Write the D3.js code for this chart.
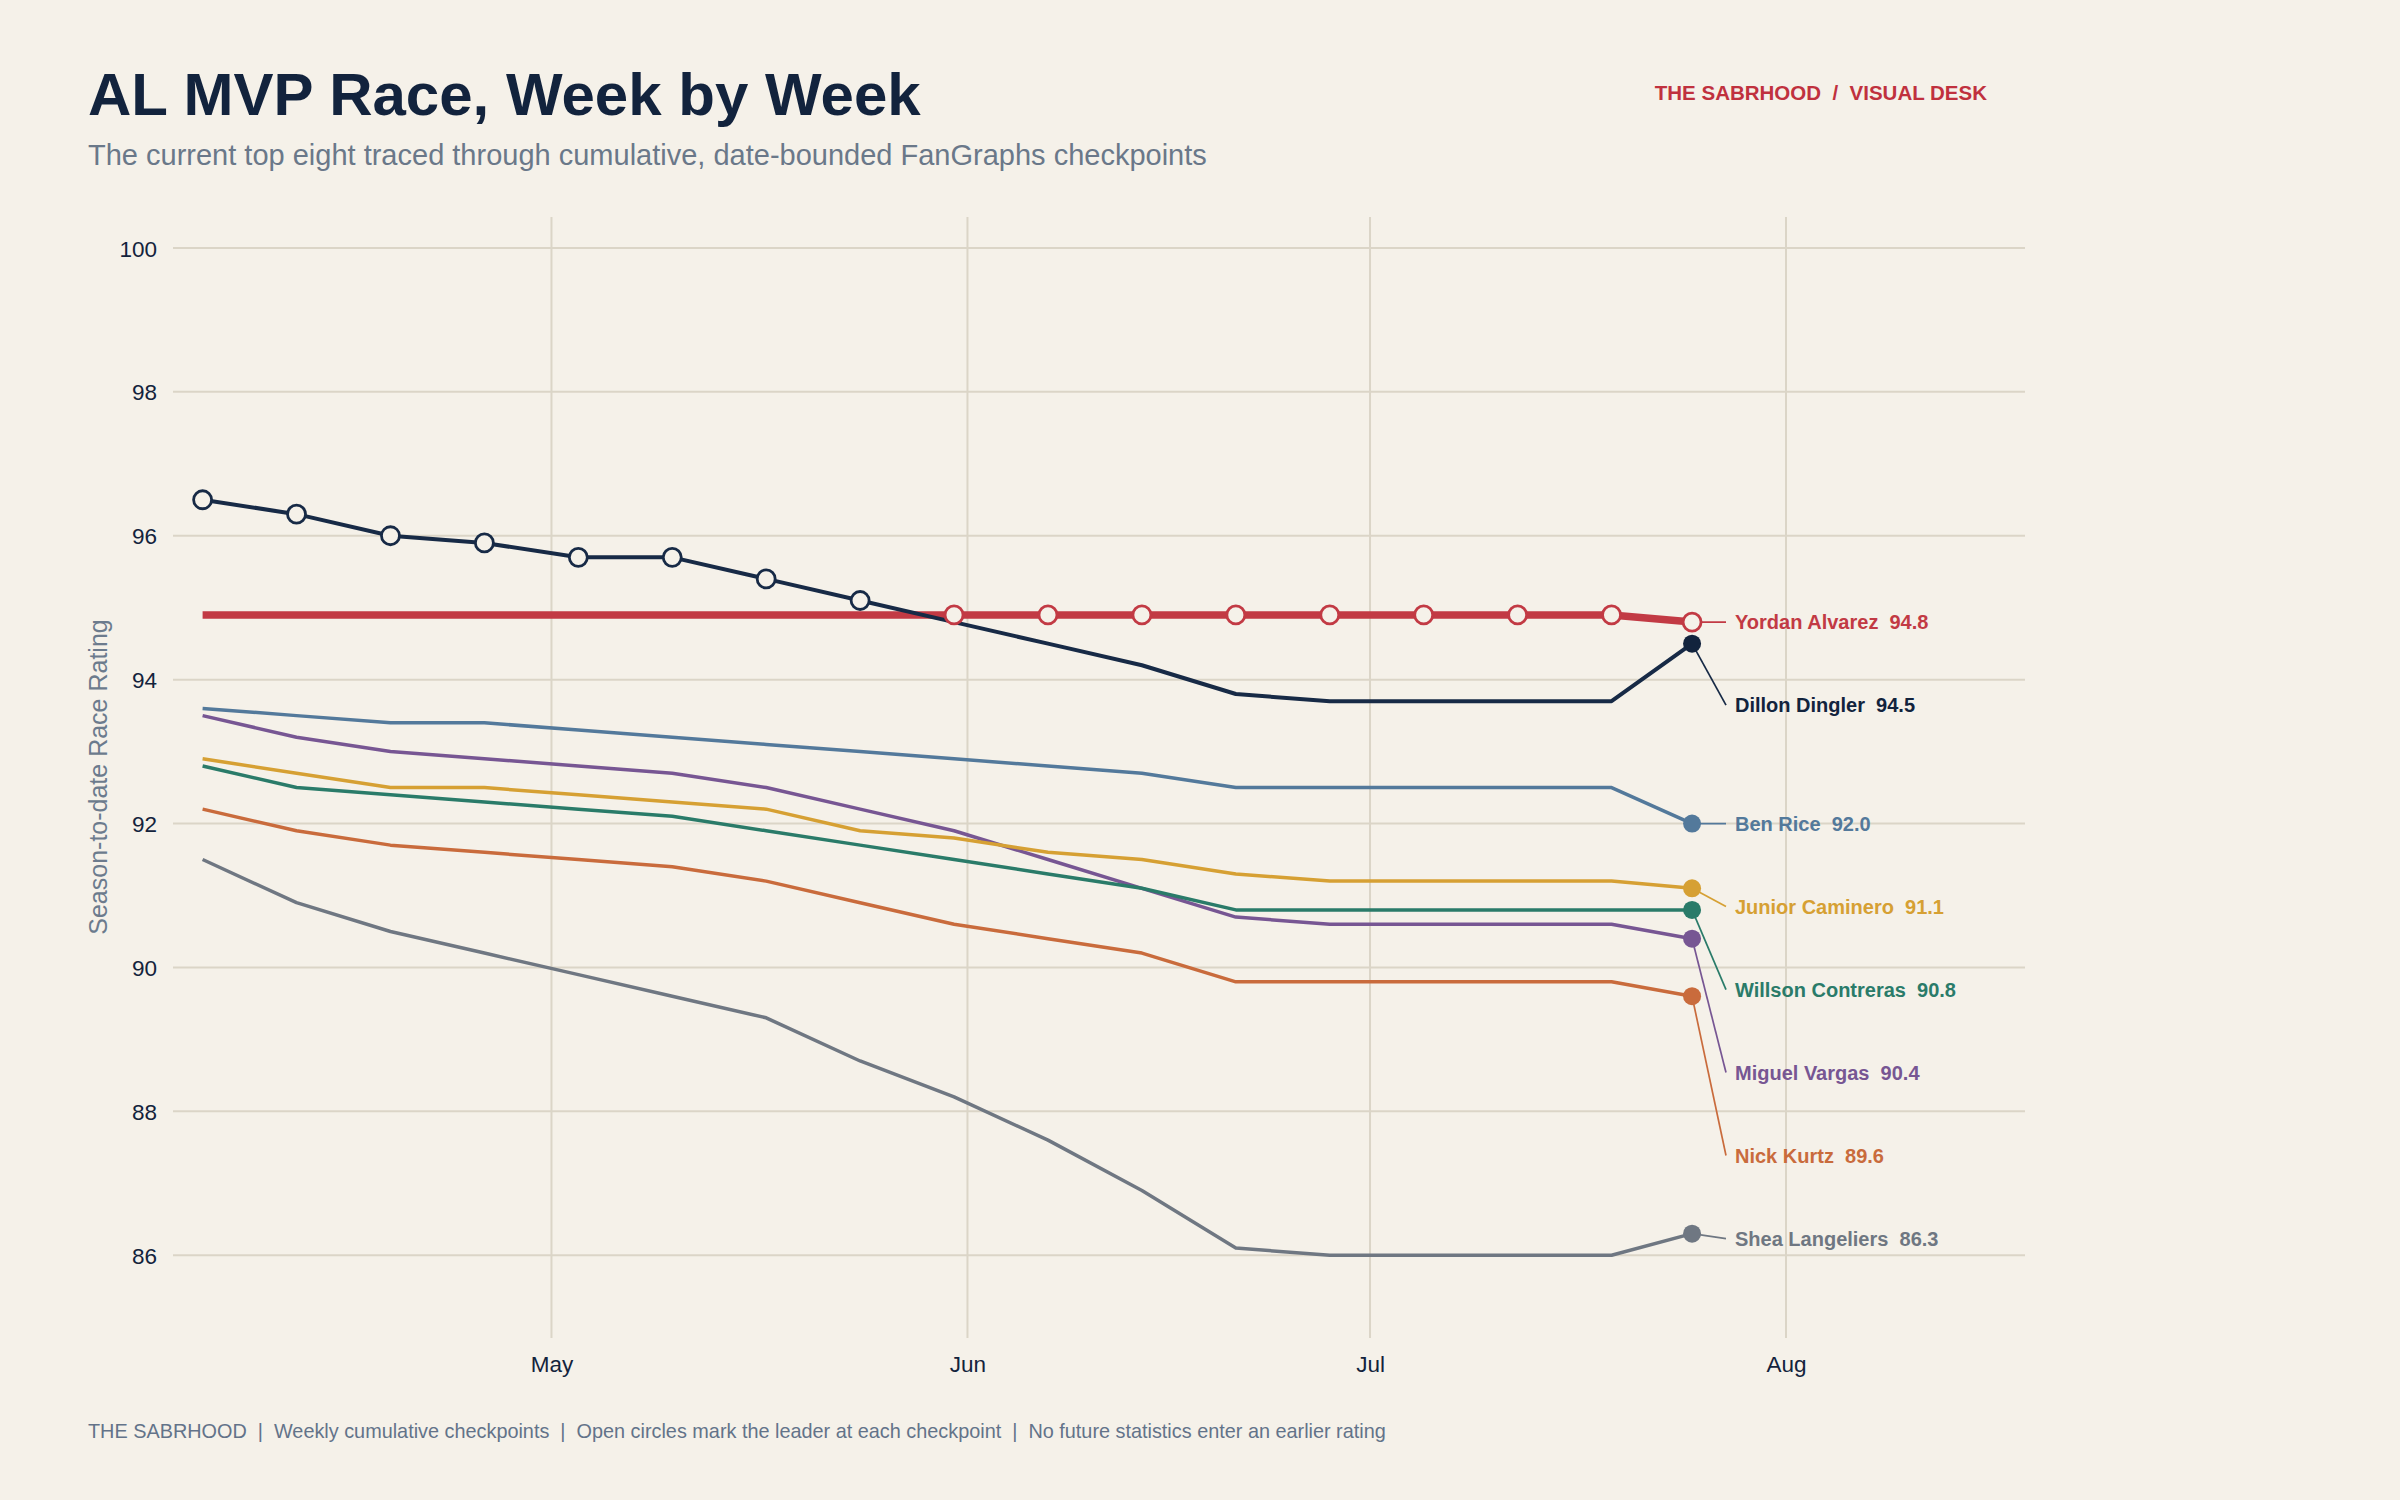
<!DOCTYPE html>
<html>
<head>
<meta charset="utf-8">
<script src="https://cdn.jsdelivr.net/npm/d3@7"></script>
<style>
  html, body { margin: 0; padding: 0; background: #f5f1e9; }
  svg { display: block; }
  text { font-family: "Liberation Sans", Arial, sans-serif; white-space: pre; }
</style>
</head>
<body>
<svg id="chart" width="2400" height="1500"></svg>
<script>
// ---------- DATA ----------
const checkpoints = ["2025-04-05","2025-04-12","2025-04-19","2025-04-26","2025-05-03","2025-05-10","2025-05-17","2025-05-24","2025-05-31","2025-06-07","2025-06-14","2025-06-21","2025-06-28","2025-07-05","2025-07-12","2025-07-19","2025-07-25"];

const players = ["Yordan Alvarez","Dillon Dingler","Ben Rice","Junior Caminero","Willson Contreras","Miguel Vargas","Nick Kurtz","Shea Langeliers"];

const alvarez    = [94.9,94.9,94.9,94.9,94.9,94.9,94.9,94.9,94.9,94.9,94.9,94.9,94.9,94.9,94.9,94.9,94.8];
const dingler    = [96.5,96.3,96.0,95.9,95.7,95.7,95.4,95.1,94.8,94.5,94.2,93.8,93.7,93.7,93.7,93.7,94.5];
const rice       = [93.6,93.5,93.4,93.4,93.3,93.2,93.1,93.0,92.9,92.8,92.7,92.5,92.5,92.5,92.5,92.5,92.0];
const caminero   = [92.9,92.7,92.5,92.5,92.4,92.3,92.2,91.9,91.8,91.6,91.5,91.3,91.2,91.2,91.2,91.2,91.1];
const contreras  = [92.8,92.5,92.4,92.3,92.2,92.1,91.9,91.7,91.5,91.3,91.1,90.8,90.8,90.8,90.8,90.8,90.8];
const vargas     = [93.5,93.2,93.0,92.9,92.8,92.7,92.5,92.2,91.9,91.5,91.1,90.7,90.6,90.6,90.6,90.6,90.4];
const kurtz      = [92.2,91.9,91.7,91.6,91.5,91.4,91.2,90.9,90.6,90.4,90.2,89.8,89.8,89.8,89.8,89.8,89.6];
const langeliers = [91.5,90.9,90.5,90.2,89.9,89.6,89.3,88.7,88.2,87.6,86.9,86.1,86.0,86.0,86.0,86.0,86.3];

const seriesValues = [alvarez, dingler, rice, caminero, contreras, vargas, kurtz, langeliers];
const seriesColors = ["#c23a44","#172a46","#53799b","#d6a033","#2a7b69","#775693","#c96b3c","#6f7782"];
const labelColors  = ["#c23a44","#12233d","#53799b","#d6a033","#2a7b69","#775693","#c96b3c","#6f7782"];

const yTicks = [86, 88, 90, 92, 94, 96, 98, 100];
const monthTicks = ["2025-05-01","2025-06-01","2025-07-01","2025-08-01"];

const titleText = "AL MVP Race, Week by Week";
const subtitleText = "The current top eight traced through cumulative, date-bounded FanGraphs checkpoints";
const brandText = "THE SABRHOOD  /  VISUAL DESK";
const yAxisTitle = "Season-to-date Race Rating";
const footerText = "THE SABRHOOD  |  Weekly cumulative checkpoints  |  Open circles mark the leader at each checkpoint  |  No future statistics enter an earlier rating";

// ---------- LAYOUT ----------
const BG = "#f5f1e9";
const plot = { left: 173, right: 2025, top: 217, bottom: 1338 };
const parse = d3.timeParse("%Y-%m-%d");
const dates = checkpoints.map(parse);

const x = d3.scaleTime()
  .domain([parse("2025-04-05"), parse("2025-08-01")])
  .range([202.6, 1786]);
const y = d3.scaleLinear()
  .domain([84.85, 100.43])
  .range([plot.bottom, plot.top]);

const svg = d3.select("#chart");
svg.append("rect").attr("width", 2400).attr("height", 1500).attr("fill", BG);

// Titles
svg.append("text").attr("x", 88).attr("y", 115)
  .attr("font-size", 60).attr("font-weight", "bold").attr("fill", "#12233d")
  .text(titleText);
svg.append("text").attr("x", 88).attr("y", 165)
  .attr("font-size", 29).attr("fill", "#6a7889")
  .text(subtitleText);
svg.append("text").attr("x", 1987).attr("y", 100).attr("text-anchor", "end")
  .attr("font-size", 20.5).attr("font-weight", "bold").attr("fill", "#c0313e")
  .text(brandText);

// Grid
const grid = svg.append("g");
grid.selectAll("line.h").data(yTicks).join("line")
  .attr("x1", plot.left).attr("x2", plot.right)
  .attr("y1", d => y(d)).attr("y2", d => y(d))
  .attr("stroke", "#dbd5c7").attr("stroke-width", 2);
grid.selectAll("line.v").data(monthTicks.map(parse)).join("line")
  .attr("x1", d => x(d)).attr("x2", d => x(d))
  .attr("y1", plot.top).attr("y2", plot.bottom)
  .attr("stroke", "#dbd5c7").attr("stroke-width", 2);

// Axes (labels only)
const yAxis = d3.axisLeft(y).tickValues(yTicks).tickSize(0).tickPadding(0).tickFormat(d3.format("d"));
const gy = svg.append("g").attr("transform", `translate(157,0)`).call(yAxis);
gy.select(".domain").remove();
gy.selectAll("text").attr("font-size", 22.5).attr("fill", "#13233c")
  .attr("font-family", "Liberation Sans, Arial, sans-serif").attr("dy", "0.36em");

const xAxis = d3.axisBottom(x).tickValues(monthTicks.map(parse)).tickSize(0).tickPadding(0).tickFormat(d3.timeFormat("%b"));
const gx = svg.append("g").attr("transform", `translate(0,1372)`).call(xAxis);
gx.select(".domain").remove();
gx.selectAll("text").attr("font-size", 22.5).attr("fill", "#13233c")
  .attr("font-family", "Liberation Sans, Arial, sans-serif").attr("dy", "0");

svg.append("text")
  .attr("transform", `translate(107,777) rotate(-90)`)
  .attr("text-anchor", "middle").attr("font-size", 25).attr("fill", "#6c7b8d")
  .text(yAxisTitle);

// Lines
const line = d3.line().x((d, i) => x(dates[i])).y(d => y(d));
const series = players.map((name, k) => ({ name, values: seriesValues[k], color: seriesColors[k], labelColor: labelColors[k], k }));
const drawOrder = [0, 7, 6, 5, 4, 3, 2, 1];
const lines = svg.append("g");
drawOrder.forEach(k => {
  const s = series[k];
  lines.append("path").datum(s.values)
    .attr("d", line).attr("fill", "none")
    .attr("stroke", s.color)
    .attr("stroke-width", k === 0 ? 7.5 : (k === 1 ? 4 : 3.5))
    .attr("stroke-linejoin", "round");
});

// Leader at each checkpoint
const leaders = dates.map((d, i) => {
  let best = 0;
  series.forEach((s, k) => { if (s.values[i] > series[best].values[i]) best = k; });
  return { i, k: best };
});
const last = dates.length - 1;

// Label dodge
const sorted = series.slice().sort((a, b) => b.values[last] - a.values[last]);
let prev = -Infinity;
sorted.forEach(s => {
  const target = y(s.values[last]);
  s.labelY = Math.max(target, prev + 83);
  prev = s.labelY;
});

const endG = svg.append("g");
sorted.forEach(s => {
  endG.append("line")
    .attr("x1", x(dates[last])).attr("y1", y(s.values[last]))
    .attr("x2", 1726).attr("y2", s.labelY)
    .attr("stroke", s.color).attr("stroke-width", 1.7);
});
series.forEach((s, k) => {
  if (leaders[last].k !== k) {
    endG.append("circle")
      .attr("cx", x(dates[last])).attr("cy", y(s.values[last]))
      .attr("r", 9).attr("fill", k === 1 ? "#12233d" : s.color);
  }
});

svg.append("g").selectAll("circle").data(leaders).join("circle")
  .attr("cx", d => x(dates[d.i]))
  .attr("cy", d => y(series[d.k].values[d.i]))
  .attr("r", 9)
  .attr("fill", BG)
  .attr("stroke", d => series[d.k].color)
  .attr("stroke-width", 2.8);

svg.append("g").selectAll("text").data(sorted).join("text")
  .attr("x", 1735).attr("y", d => d.labelY).attr("dy", "0.36em")
  .attr("font-size", 20).attr("font-weight", "bold")
  .attr("fill", d => d.labelColor)
  .text(d => `${d.name}  ${d.values[last].toFixed(1)}`);

// Footer
svg.append("text").attr("x", 88).attr("y", 1438)
  .attr("font-size", 19.85).attr("fill", "#637389")
  .text(footerText);
</script>
</body>
</html>
